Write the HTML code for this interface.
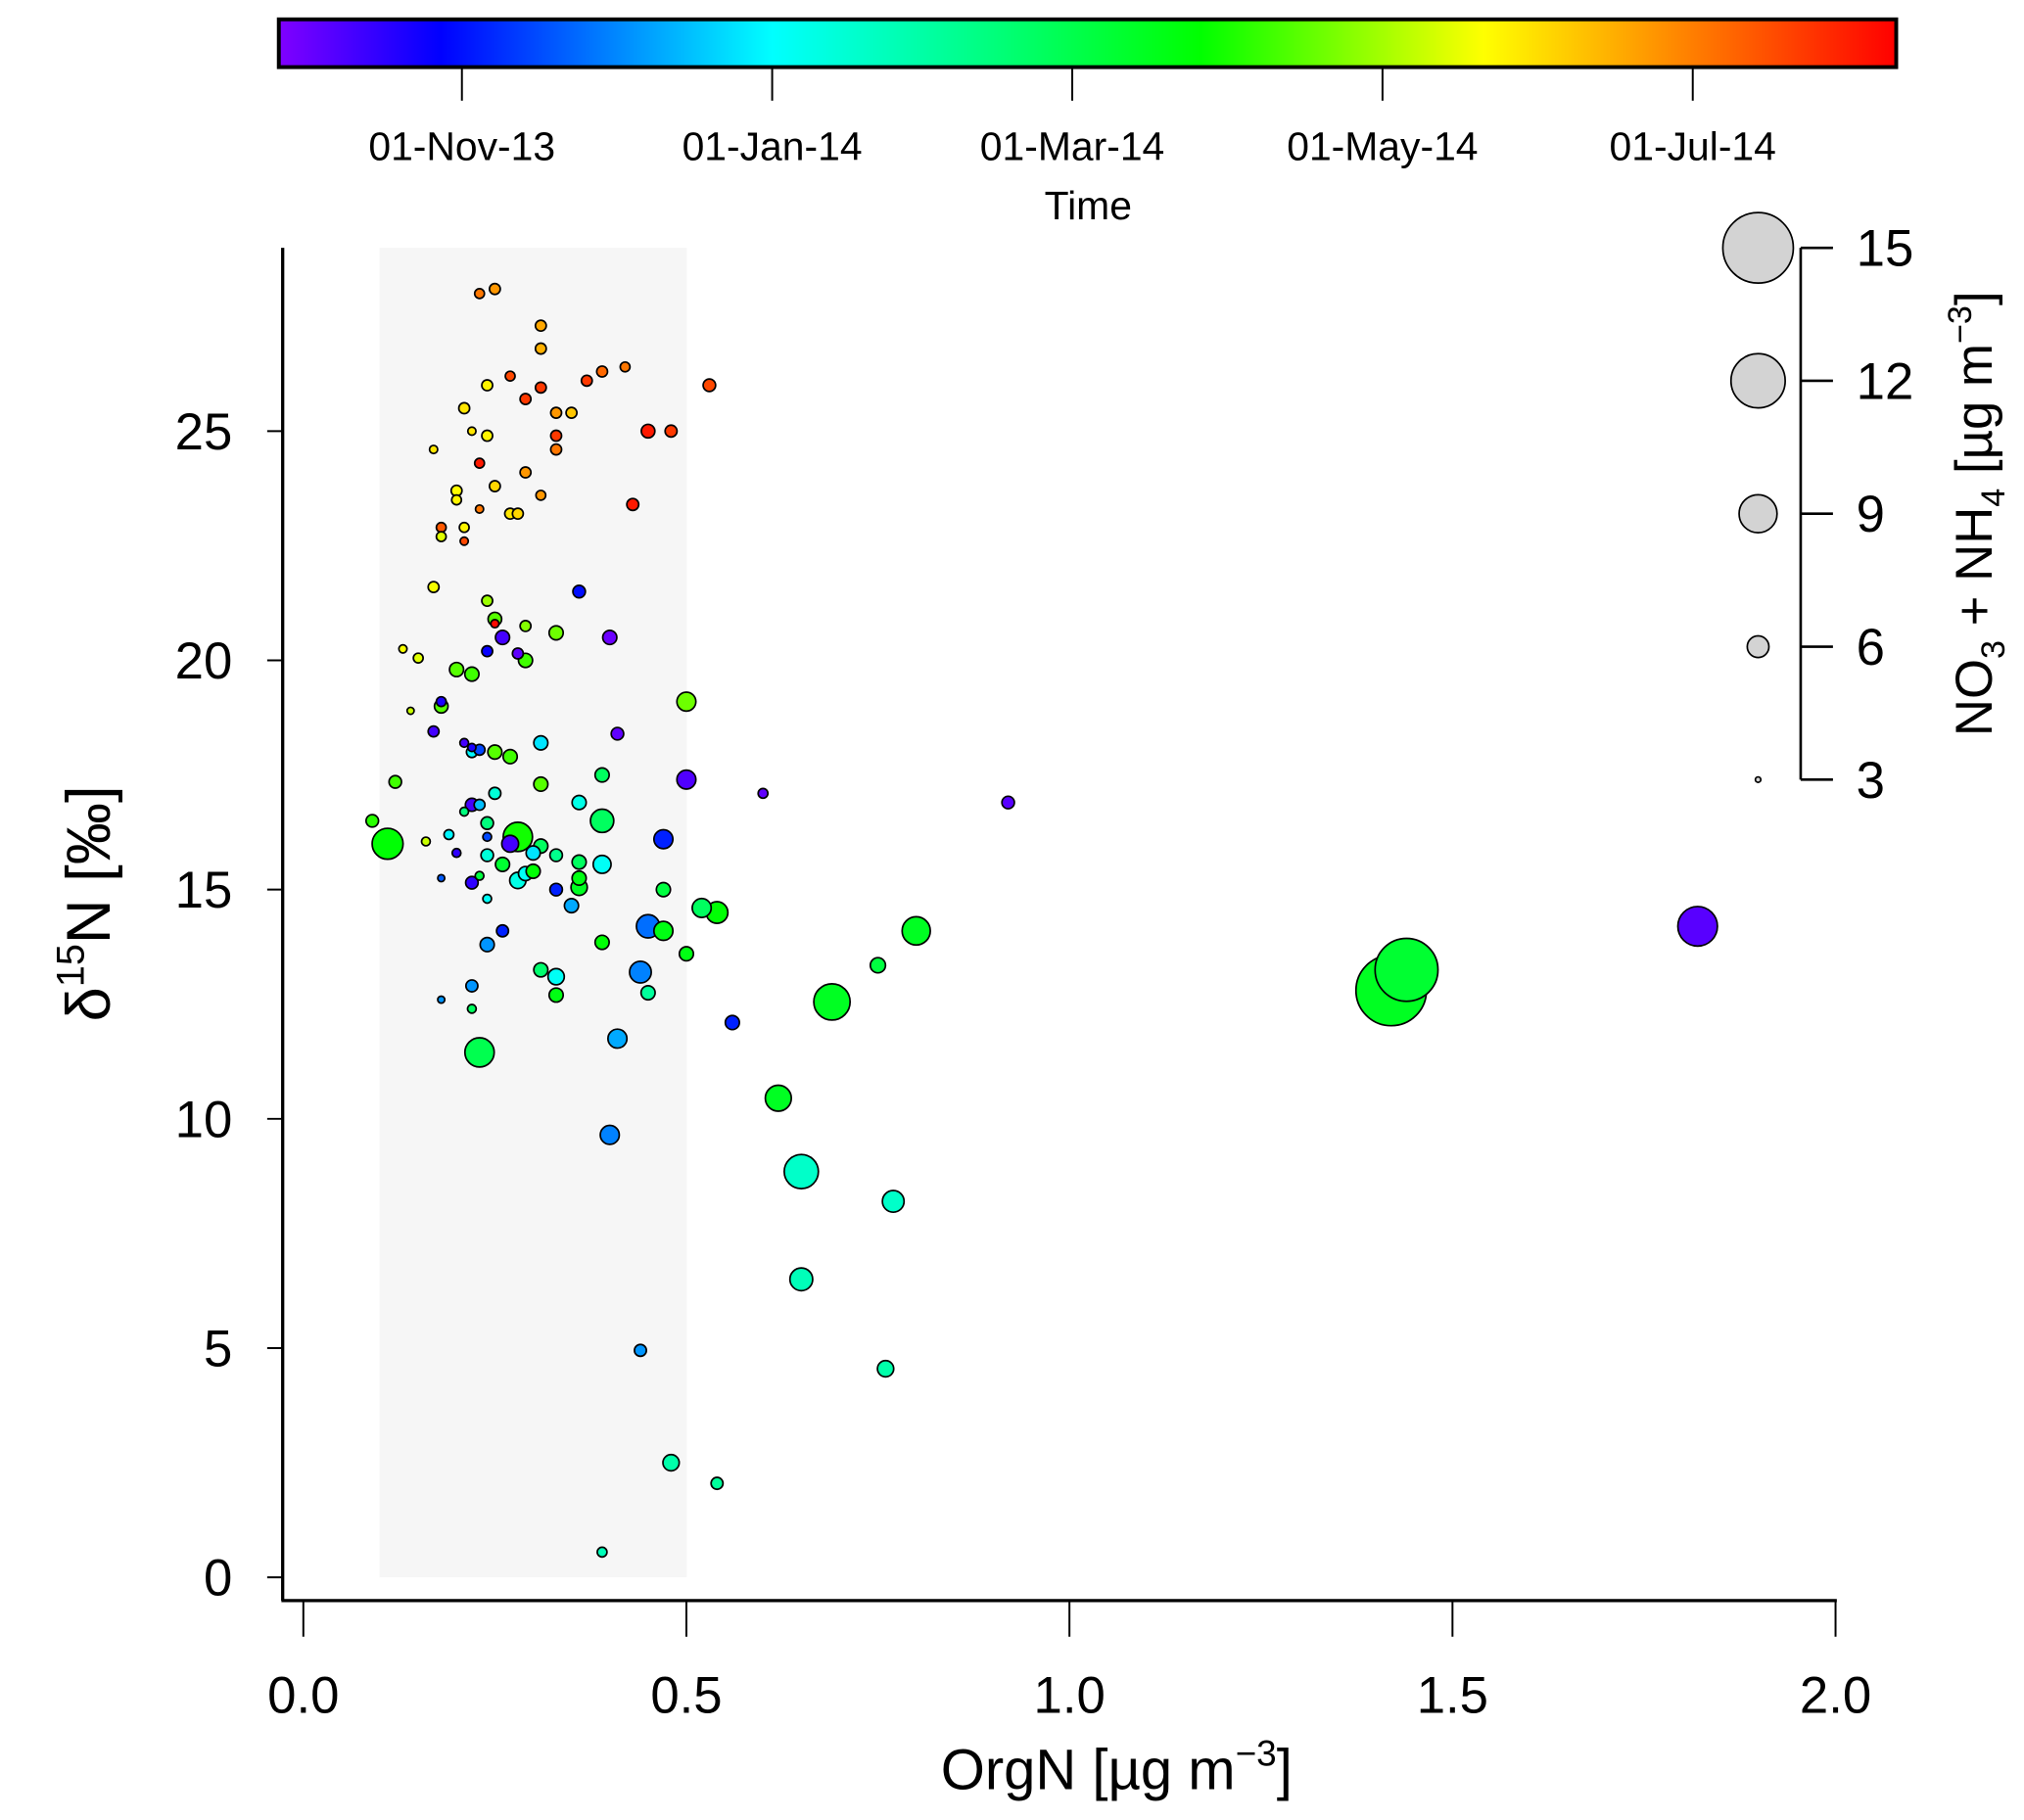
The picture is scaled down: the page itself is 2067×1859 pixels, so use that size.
<!DOCTYPE html>
<html><head><meta charset="utf-8"><style>
html,body{margin:0;padding:0;background:#fff;}
svg{display:block;font-family:"Liberation Sans",Arial,sans-serif;}
</style></head><body>
<svg id="chart" width="2067" height="1859" viewBox="0 0 1568 1410" preserveAspectRatio="none" xmlns="http://www.w3.org/2000/svg">
<defs>
<linearGradient id="rainbow" x1="0" x2="1" y1="0" y2="0">
<stop offset="0" stop-color="#8000ff"/><stop offset="0.1" stop-color="#0000ff"/><stop offset="0.305" stop-color="#00ffff"/><stop offset="0.57" stop-color="#00ff00"/><stop offset="0.745" stop-color="#ffff00"/><stop offset="1" stop-color="#ff0000"/>
</linearGradient>
</defs>
<rect x="0" y="0" width="1568" height="1410" fill="#fff"/>
<rect x="294" y="192" width="238" height="1030" fill="#f6f6f6"/>
<g id="points"></g>
<g id="axes"></g>
<rect x="216" y="15" width="1253" height="37" fill="url(#rainbow)" stroke="#000" stroke-width="3"/>
<g id="cbticks"></g>
<text x="843" y="170" font-size="31" text-anchor="middle">Time</text>
<g id="sizelegend"></g>
<text transform="translate(85,700) rotate(-90)" font-size="48" text-anchor="middle">δ<tspan font-size="30" dy="-20">15</tspan><tspan dy="20">N [‰]</tspan></text>
<text x="865" y="1386" font-size="44" text-anchor="middle">OrgN [µg m<tspan font-size="28" dy="-18">−3</tspan><tspan dy="18">]</tspan></text>
<text transform="translate(1543,398) rotate(-90)" font-size="40" text-anchor="middle">NO<tspan font-size="26" dy="10">3</tspan><tspan dy="-10"> + NH</tspan><tspan font-size="26" dy="10">4</tspan><tspan dy="-10"> [µg m</tspan><tspan font-size="26" dy="-16">−3</tspan><tspan dy="16">]</tspan></text>
</svg>
<script>
// data: OrgN, d15N, NO3+NH4 size value, days since 2013-09-26 (colour)
const orgN=[0.23,0.25,0.31,0.31,0.39,0.42,0.27,0.24,0.31,0.37,0.29,0.21,0.33,0.35,0.22,0.24,0.33,0.33,0.17,0.53,0.45,0.48,0.23,0.20,0.25,0.20,0.29,0.31,0.43,0.23,0.27,0.28,0.18,0.21,0.18,0.21,
0.17,0.36,0.24,0.25,0.25,0.33,0.26,0.40,0.24,0.28,0.29,0.13,0.15,0.20,0.22,0.29,0.50,0.18,0.18,0.14,0.17,0.41,0.21,0.22,0.22,0.23,0.25,0.27,0.31,0.60,0.92,0.50,0.39,0.31,0.12,0.25,0.21,0.22,0.23,0.36,0.09,0.11,0.16,0.19,0.24,0.24,0.27,0.28,0.31,0.30,0.20,0.24,0.26,0.29,0.30,0.33,0.39,0.36,0.39,0.36,0.36,0.33,0.35,0.18,0.22,0.23,0.28,0.47,0.45,0.47,0.47,0.52,0.54,0.39,0.44,0.45,0.50,0.24,0.26,0.24,0.31,0.33,0.33,0.22,0.18,0.22,0.23,0.41,0.56,0.40,0.44,0.48,0.54,0.39,0.62,0.65,0.77,0.65,0.76,0.69,0.75,0.80,1.44,1.42,1.82];
const d15N=[28.0,28.1,27.3,26.8,26.3,26.4,26.2,26.0,25.95,26.1,25.7,25.5,25.4,25.4,25.0,24.9,24.9,24.6,24.6,26.0,25.0,25.0,24.3,23.7,23.8,23.5,24.1,23.6,23.4,23.3,23.2,23.2,22.9,22.9,22.7,22.6,
21.6,21.5,21.3,20.9,20.8,20.6,20.5,20.5,20.2,20.15,20.75,20.25,20.05,19.8,19.7,20.0,19.1,19.1,19.0,18.9,18.45,18.4,18.2,18.1,18.0,18.05,18.0,17.9,18.2,17.1,16.9,17.4,17.5,17.3,17.35,17.1,16.7,16.85,16.85,16.9,16.5,16.0,16.05,16.2,16.45,16.15,16.0,16.15,15.95,15.8,15.8,15.75,15.55,15.35,15.4,15.75,16.5,15.6,15.55,15.25,15.05,15.0,14.65,15.25,15.15,15.3,15.2,16.1,14.2,14.1,15.0,14.6,14.5,13.85,13.2,12.75,13.6,14.8,14.1,13.8,13.25,13.1,12.7,12.9,12.6,12.4,11.45,11.75,12.1,9.65,4.95,2.5,2.05,0.55,10.45,8.85,8.2,6.5,4.55,12.55,13.35,14.1,13.25,12.8,14.2];
const inorgN=[3.8,4,4,4,4,3.8,3.8,4,4,4,4,4,4,4,3.5,4,4,4,3.5,4.3,4.5,4.2,3.8,4,4,3.8,4,3.8,4.2,3.5,4,4,3.8,3.8,3.8,3.5,
4,4.3,4,4.5,3.5,4.6,4.6,4.6,4,4,4,3.5,3.8,4.6,4.6,4.6,5.5,3.8,4.5,3.3,4,4.3,3.6,3.5,4,4,4.6,4.6,4.6,3.8,4.3,5.5,4.6,4.6,4.3,4.2,3.6,4.4,4,4.6,4.3,7.7,3.6,3.8,4.3,3.6,5.1,7.4,4.6,4.6,3.6,4.3,4.6,4.6,4.6,4.3,6.3,4.6,5.3,4.6,5,4.3,4.6,3.3,4.3,3.6,5,5.5,6.3,5.5,4.6,5.5,6,4.6,6,4.6,4.6,3.6,4.2,4.6,4.6,5,4.6,4.2,3.3,3.6,7.4,5.5,4.6,5.5,4.2,5,4.2,3.8,6.8,8.3,6,6.2,5,8.7,4.8,7.2,13.6,15,9.3];
const dayIdx=[280,270,265,262,285,280,295,240,300,300,300,245,270,255,245,240,300,280,245,295,310,300,310,238,250,240,270,270,310,280,245,250,290,240,230,295,
235,35,215,200,315,205,15,5,30,8,210,235,230,200,195,195,205,25,200,225,15,8,15,25,95,50,200,195,90,8,10,12,150,200,195,110,140,15,80,105,190,180,225,95,140,50,15,185,150,90,20,110,165,100,180,135,150,150,100,175,170,40,75,55,20,160,105,40,60,175,160,150,180,180,65,130,175,100,40,70,145,100,175,70,70,150,155,75,40,65,70,125,130,120,170,115,115,120,125,170,160,170,165,170,10];
const xTicks=[0,0.5,1,1.5,2];
const xTickLabels=["0.0","0.5","1.0","1.5","2.0"];
const yTicks=[0,5,10,15,20,25];
const yTickLabels=["0","5","10","15","20","25"];
const cbTickDays=[36,97,156,217,278];
const cbTickLabels=["01-Nov-13","01-Jan-14","01-Mar-14","01-May-14","01-Jul-14"];
const sizeTicks=[15,12,9,6,3];
const totalDays=318;

const NS="http://www.w3.org/2000/svg";
const X=v=>235+v*593.5;
const Y=v=>1222-v*35.52;
const R=v=>Math.max(1.5,2.1*(v-2));
const CB=d=>216+d/totalDays*1253;
const SY=v=>604-(v-3)*(412/12);
const stops=[[0,[128,0,255]],[0.1,[0,0,255]],[0.305,[0,255,255]],[0.57,[0,255,0]],[0.745,[255,255,0]],[1,[255,0,0]]];
function cmap(d){let f=Math.min(1,Math.max(0,d/totalDays));for(let i=1;i<stops.length;i++){if(f<=stops[i][0]){const a=stops[i-1],b=stops[i];const k=(f-a[0])/(b[0]-a[0]);const c=a[1].map((v,j)=>Math.round(v+(b[1][j]-v)*k));return `rgb(${c.join(',')})`;}}return 'rgb(255,0,0)';}
function mk(tag,attrs,parent){const e=document.createElementNS(NS,tag);for(const k in attrs)e.setAttribute(k,attrs[k]);parent.appendChild(e);return e;}

const pts=document.getElementById('points');
const order=orgN.map((_,i)=>i).sort((a,b)=>inorgN[b]-inorgN[a]);
order.forEach(i=>{
  const c=mk('circle',{cx:X(orgN[i]),cy:Y(d15N[i]),r:R(inorgN[i]),fill:cmap(dayIdx[i]),stroke:'#000','stroke-width':1.3},pts);
  
  
});

const ax=document.getElementById('axes');
let l=mk('line',{x1:219,y1:192,x2:219,y2:1240,stroke:'#000','stroke-width':2.5},ax);


l=mk('line',{x1:218,y1:1240,x2:1423,y2:1240,stroke:'#000','stroke-width':2.5},ax);


xTicks.forEach((v,i)=>{
  const t=mk('line',{x1:X(v),y1:1240,x2:X(v),y2:1268,stroke:'#000','stroke-width':1.5},ax);
  
  
  const tx=mk('text',{x:X(v),y:1327,'font-size':40,'text-anchor':'middle'},ax);
  tx.textContent=xTickLabels[i];
  
  
});
yTicks.forEach((v,i)=>{
  const t=mk('line',{x1:207,y1:Y(v),x2:219,y2:Y(v),stroke:'#000','stroke-width':1.5},ax);
  
  
  const tx=mk('text',{x:180,y:Y(v)+14,'font-size':40,'text-anchor':'end'},ax);
  tx.textContent=yTickLabels[i];
  
  
});

const cb=document.getElementById('cbticks');
cbTickDays.forEach((d,i)=>{
  const t=mk('line',{x1:CB(d),y1:52,x2:CB(d),y2:78,stroke:'#000','stroke-width':1.5},cb);
  
  
  const tx=mk('text',{x:CB(d),y:124,'font-size':31,'text-anchor':'middle'},cb);
  tx.textContent=cbTickLabels[i];
  
  
});

const sl=document.getElementById('sizelegend');
l=mk('line',{x1:1395,y1:SY(15),x2:1395,y2:SY(3),stroke:'#000','stroke-width':2},sl);


sizeTicks.forEach(v=>{
  const t=mk('line',{x1:1395,y1:SY(v),x2:1420,y2:SY(v),stroke:'#000','stroke-width':2},sl);
  
  
  const c=mk('circle',{cx:1362,cy:SY(v),r:R(v),fill:'#d3d3d3',stroke:'#000','stroke-width':1.3},sl);
  
  
  const tx=mk('text',{x:1438,y:SY(v)+14,'font-size':40},sl);
  tx.textContent=String(v);
  
  
});
</script>
</body></html>
